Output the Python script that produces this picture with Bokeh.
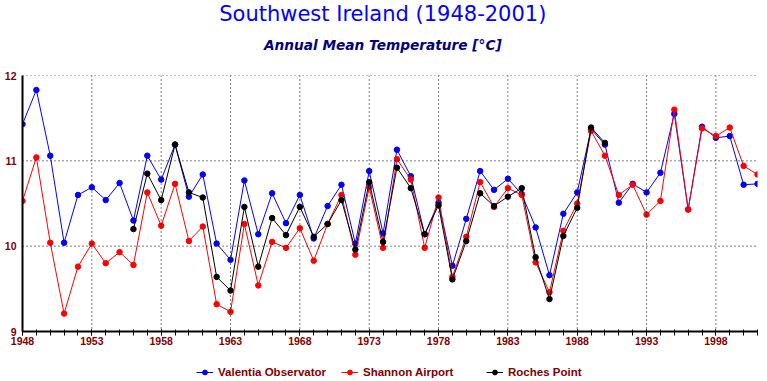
from bokeh.plotting import figure
from bokeh.layouts import column
from bokeh.core.properties import value
from bokeh.models import (ColumnDataSource, FixedTicker, Legend, LegendItem, Span)
from bokeh.embed import file_html
from bokeh.resources import INLINE

# ---- data ----
years_all = list(range(1948, 2002))
valentia = [11.43, 11.83, 11.06, 10.04, 10.60, 10.69, 10.54, 10.74, 10.30, 11.06,
            10.78, 11.19, 10.58, 10.84, 10.03, 9.84, 10.77, 10.14, 10.62, 10.27,
            10.60, 10.09, 10.47, 10.72, 10.03, 10.88, 10.15, 11.13, 10.82, 10.14,
            10.51, 9.77, 10.32, 10.88, 10.66, 10.79, 10.61, 10.22, 9.66, 10.38,
            10.63, 11.37, 11.19, 10.51, 10.73, 10.63, 10.86, 11.55, 10.43, 11.40,
            11.27, 11.29, 10.72, 10.73]
shannon = [10.53, 11.04, 10.04, 9.21, 9.76, 10.03, 9.80, 9.93, 9.78, 10.63,
           10.24, 10.73, 10.06, 10.23, 9.32, 9.23, 10.26, 9.54, 10.05, 9.98,
           10.21, 9.83, 10.26, 10.60, 9.90, 10.69, 9.98, 11.02, 10.78, 9.98,
           10.57, 9.64, 10.11, 10.75, 10.46, 10.68, 10.60, 9.81, 9.46, 10.18,
           10.50, 11.35, 11.06, 10.60, 10.72, 10.37, 10.53, 11.60, 10.43, 11.38,
           11.29, 11.39, 10.94, 10.84]
years_roches = list(range(1956, 1991))
roches = [10.20, 10.85, 10.54, 11.19, 10.63, 10.57, 9.64, 9.48, 10.46, 9.76,
          10.33, 10.13, 10.46, 10.11, 10.26, 10.54, 9.96, 10.75, 10.05, 10.92,
          10.68, 10.14, 10.48, 9.61, 10.06, 10.62, 10.47, 10.58, 10.68, 9.87,
          9.38, 10.12, 10.45, 11.39, 11.21]
x_ticks = [1948, 1953, 1958, 1963, 1968, 1973, 1978, 1983, 1988, 1993, 1998]
y_ticks = [9, 10, 11, 12]
series_names = ["Valentia Observator", "Shannon Airport", "Roches Point"]
series_colors = ["#0000ff", "#ff0000", "#000000"]
title_text = "Southwest Ireland (1948-2001)"
subtitle_text = "Annual Mean Temperature [°C]"

BG = "#ffffff"
DARKRED = "#800000"
W = 767

# ---- header strip with the two titles (pixel-scaled ranges) ----
HEAD_H = 60
head = figure(width=W, height=HEAD_H, x_range=(0, W), y_range=(HEAD_H, 0),
              output_backend="svg", toolbar_location=None, min_border=0,
              background_fill_color=BG, border_fill_color=BG,
              outline_line_color=None)
head.axis.visible = False
head.grid.visible = False
head.text(x=[376], y=[13], text=[title_text], text_align="center",
          text_baseline="middle", text_font=value("DejaVu Sans"),
          text_font_size="21px", text_color="#0000ff")
head.text(x=[376], y=[44], text=[subtitle_text], text_align="center",
          text_baseline="middle", text_font=value("DejaVu Sans"),
          text_font_style="bold italic", text_font_size="13.7px",
          text_color="#000080")

# ---- main chart ----
p = figure(width=W, height=352 - HEAD_H, x_range=(1948, 2001), y_range=(9, 12),
           output_backend="svg", toolbar_location=None,
           min_border_left=22, min_border_right=10, min_border_top=75 - HEAD_H,
           min_border_bottom=21, background_fill_color=BG,
           border_fill_color=BG, outline_line_color=None)

p.xgrid.visible = False
p.ygrid.visible = False

for xv in x_ticks[1:]:
    p.add_layout(Span(location=xv, dimension="height", line_color="black",
                      line_width=1, line_dash="1 3"))
for yv in y_ticks[1:]:
    p.add_layout(Span(location=yv, dimension="width", line_color="black",
                      line_width=1, line_dash="1 3"))

p.xaxis.ticker = FixedTicker(ticks=x_ticks, minor_ticks=years_all)
p.yaxis.ticker = FixedTicker(ticks=y_ticks)
for ax in (p.xaxis, p.yaxis):
    ax.axis_line_color = "black"
    ax.axis_line_width = 2
    ax.major_label_text_color = DARKRED
    ax.major_label_text_font = "Liberation Sans"
    ax.major_label_text_font_style = "bold"
    ax.major_label_text_font_size = "10.5px"
p.xaxis.major_tick_in = 2
p.xaxis.major_tick_out = 4
p.xaxis.minor_tick_in = 2
p.xaxis.minor_tick_out = 4
p.xaxis.major_tick_line_color = "black"
p.xaxis.minor_tick_line_color = "black"
p.xaxis.major_label_standoff = 1
p.yaxis.major_tick_out = 0
p.yaxis.major_tick_in = 0
p.yaxis.minor_tick_line_color = None
p.yaxis.major_label_standoff = 6

src_v = ColumnDataSource(dict(x=years_all, y=valentia))
src_s = ColumnDataSource(dict(x=years_all, y=shannon))
src_r = ColumnDataSource(dict(x=years_roches, y=roches))
sources = [src_v, src_s, src_r]

for src, col in zip(sources, series_colors):
    p.line("x", "y", source=src, line_color=col, line_width=1)
    p.scatter("x", "y", source=src, size=5.5, marker="circle",
              fill_color=col, line_color=col)

# ---- legend strip: ranges keep the series out of view ----
leg = figure(width=W, height=29, x_range=(0, 1), y_range=(0, 1),
             output_backend="svg", toolbar_location=None,
             min_border=0, background_fill_color=BG, border_fill_color=BG,
             outline_line_color=None)
leg.axis.visible = False
leg.grid.visible = False
items = []
for src, col, name in zip(sources, series_colors, series_names):
    l = leg.line("x", "y", source=src, line_color=col, line_width=1)
    c = leg.scatter("x", "y", source=src, size=4.5, marker="circle",
                    fill_color=col, line_color=col)
    items.append(LegendItem(label=name, renderers=[l, c]))

legend = Legend(items=items, orientation="horizontal", location=(174, 3),
                glyph_width=17, glyph_height=12, label_height=12,
                label_width=123, label_standoff=5, spacing=0, padding=0,
                margin=0, border_line_color=None, background_fill_alpha=0,
                label_text_font="Liberation Sans", label_text_font_style="bold",
                label_text_font_size="11.5px", label_text_color=DARKRED)
leg.add_layout(legend, "center")

layout = column(head, p, leg, spacing=0)
open("out.html", "w").write(file_html(layout, INLINE))
